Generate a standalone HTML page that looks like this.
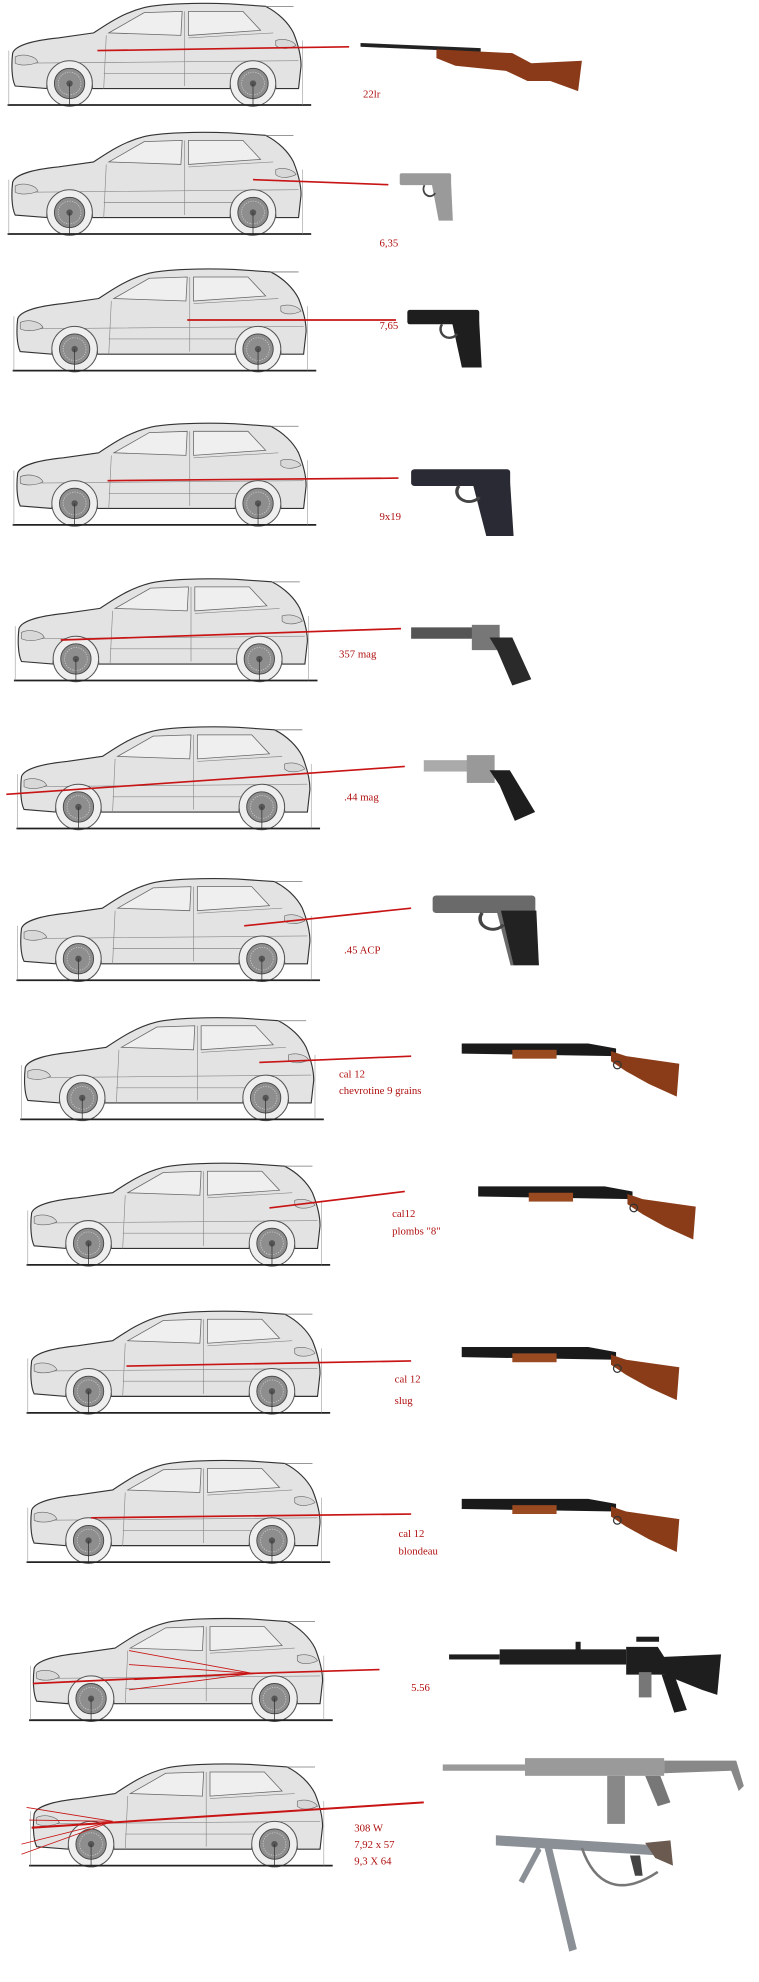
<!DOCTYPE html>
<html><head><meta charset="utf-8"><style>
html,body{margin:0;padding:0;background:#fff}
svg{display:block}
text{font-family:"Liberation Serif",serif;fill:#b01010;font-size:8.5px}
</style></head><body>
<svg width="759" height="1982" viewBox="0 0 600 1567" preserveAspectRatio="none" xmlns="http://www.w3.org/2000/svg">
<defs>
<g id="wheel">
<circle r="18" fill="#eeeeee" stroke="#555" stroke-width="0.8"/>
<circle r="12" fill="#8e8e8e" stroke="#444" stroke-width="0.7"/>
<circle r="9" fill="none" stroke="#ccc" stroke-width="0.6" stroke-dasharray="1 1"/>
<circle r="2.5" fill="#555"/>
<line x1="0" y1="0" x2="0" y2="18" stroke="#333" stroke-width="0.6"/>
</g>
<g id="car">
<path d="M4,40 C6,34 20,30 40,28 L68,24 C80,16 92,8 108,4 C120,1 150,0 175,1 L204,3 C214,8 222,16 226,24 C230,34 232,42 232,50 L230,68 L212,68 A18,18 0 0 0 176,68 L67,68 A18,18 0 0 0 31,68 L6,66 C3,60 3,48 4,40 Z" fill="#e3e3e3" stroke="#333" stroke-width="0.9"/>
<path d="M204,3 L226,3" stroke="#777" stroke-width="0.6"/>
<path d="M80,24 L108,8 L138,7 L137,26 Z" fill="#efefef" stroke="#666" stroke-width="0.6"/>
<path d="M143,7 L186,7 L200,22 L143,26 Z" fill="#efefef" stroke="#666" stroke-width="0.6"/>
<path d="M78,26 L76,68 M140,7 L140,66 M143,28 L210,24 M8,48 L230,46 M76,56 L200,56" stroke="#888" stroke-width="0.5" fill="none"/>
<path d="M6,43 C12,40 22,42 24,47 C18,50 10,50 6,48 Z M212,30 C218,28 226,30 228,34 C222,37 215,37 212,34 Z" fill="#d8d8d8" stroke="#666" stroke-width="0.5"/>
<path d="M31,68 A18,18 0 0 1 67,68 M176,68 A18,18 0 0 1 212,68" fill="none" stroke="#666" stroke-width="0.6"/>
<use href="#wheel" x="49" y="64"/>
<use href="#wheel" x="194" y="64"/>
<line x1="0" y1="81" x2="240" y2="81" stroke="#222" stroke-width="1.4"/>
<line x1="1" y1="38" x2="1" y2="81" stroke="#888" stroke-width="0.4"/>
<line x1="233" y1="30" x2="233" y2="81" stroke="#888" stroke-width="0.4"/>
</g>
<g id="shotgun">
<path d="M0,0 L100,0 L122,4 L122,10 L0,8 Z" fill="#1a1a1a"/>
<rect x="40" y="5" width="35" height="7" fill="#9a4a20"/>
<path d="M118,6 L130,10 L172,16 L170,42 L148,32 L130,22 L118,14 Z" fill="#8a3c18"/>
<circle cx="123" cy="17" r="3" fill="none" stroke="#333" stroke-width="1"/>
</g>
<g id="pistol">
<rect x="0" y="0" width="58" height="12" rx="2"/>
<path d="M36,10 L58,10 L60,48 L44,48 Z"/>
<path d="M28,12 A7,7 0 0 0 40,20" fill="none" stroke="#444" stroke-width="2"/>
</g>
</defs>

<use href="#car" x="6" y="2"/>
<use href="#car" x="6" y="104"/>
<use href="#car" x="10" y="212"/>
<use href="#car" x="10" y="334"/>
<use href="#car" x="11" y="457"/>
<use href="#car" x="13" y="574"/>
<use href="#car" x="13" y="694"/>
<use href="#car" x="16" y="804"/>
<use href="#car" x="21" y="919"/>
<use href="#car" x="21" y="1036"/>
<use href="#car" x="21" y="1154"/>
<use href="#car" x="23" y="1279"/>
<use href="#car" x="23" y="1394"/>

<g stroke="#c81414" stroke-width="1.3" fill="none">
<line x1="77" y1="40" x2="276" y2="37"/>
<line x1="200" y1="142" x2="307" y2="146"/>
<line x1="148" y1="253" x2="313" y2="253"/>
<line x1="85" y1="380" x2="315" y2="378"/>
<line x1="48" y1="506" x2="317" y2="497"/>
<line x1="5" y1="628" x2="320" y2="606"/>
<line x1="193" y1="732" x2="325" y2="718"/>
<line x1="205" y1="840" x2="325" y2="835"/>
<line x1="213" y1="955" x2="320" y2="942"/>
<line x1="100" y1="1080" x2="325" y2="1076"/>
<line x1="72" y1="1200" x2="325" y2="1197"/>
<line x1="26" y1="1331" x2="200" y2="1323"/>
<line x1="200" y1="1323" x2="300" y2="1320"/>
<line x1="25" y1="1445" x2="335" y2="1425" stroke-width="1.6"/>
</g>
<g stroke="#c81414" stroke-width="0.7" fill="none">
<line x1="200" y1="1323" x2="102" y2="1305"/>
<line x1="200" y1="1323" x2="102" y2="1316"/>
<line x1="200" y1="1323" x2="106" y2="1328"/>
<line x1="200" y1="1323" x2="102" y2="1336"/>
<line x1="89" y1="1440" x2="21" y2="1429"/>
<line x1="89" y1="1440" x2="17" y2="1458"/>
<line x1="89" y1="1440" x2="17" y2="1466"/>
<line x1="89" y1="1440" x2="23" y2="1439"/>
</g>

<g transform="translate(285,34)">
<path d="M0,0 L95,4 L95,7 L0,3 Z" fill="#222"/>
<path d="M60,5 L120,8 L135,16 L175,14 L172,38 L150,30 L132,30 L115,22 L75,18 L60,12 Z" fill="#8a3a18"/>
</g>
<g transform="translate(316,137) scale(0.7,0.78)" fill="#9a9a9a"><use href="#pistol"/></g>
<g transform="translate(322,245) scale(0.98,0.95)" fill="#1e1e1e"><use href="#pistol"/></g>
<g transform="translate(325,371) scale(1.35,1.1)" fill="#2a2a34"><use href="#pistol"/></g>
<g transform="translate(325,492)">
<rect x="0" y="4" width="58" height="9" fill="#555"/>
<rect x="48" y="2" width="22" height="20" fill="#777"/>
<path d="M62,12 L80,12 L95,45 L80,50 L68,22 Z" fill="#2a2a2a"/>
</g>
<g transform="translate(335,597)">
<rect x="0" y="4" width="40" height="9" fill="#aaa"/>
<rect x="34" y="0" width="22" height="22" fill="#999"/>
<path d="M52,12 L68,12 L88,45 L72,52 L60,24 Z" fill="#1e1e1e"/>
</g>
<g transform="translate(342,708) scale(1.4,1.15)" fill="#6a6a6a"><use href="#pistol"/></g>
<path d="M396,720 L424,720 L426,763 L406,763 Z" fill="#222"/>
<use href="#shotgun" x="365" y="825"/>
<use href="#shotgun" x="378" y="938"/>
<use href="#shotgun" x="365" y="1065"/>
<use href="#shotgun" x="365" y="1185"/>
<g transform="translate(355,1300)" fill="#1e1e1e">
<rect x="0" y="8" width="40" height="4"/>
<rect x="40" y="4" width="100" height="12"/>
<path d="M140,2 L165,2 L170,10 L215,8 L212,40 L200,36 L170,24 L140,24 Z"/>
<rect x="100" y="-2" width="4" height="8"/>
<rect x="148" y="-6" width="18" height="4"/>
<rect x="150" y="22" width="10" height="20" fill="#777"/>
<path d="M168,24 L178,24 L188,52 L178,54 Z"/>
</g>
<g transform="translate(350,1380)" fill="#9a9a9a">
<rect x="0" y="15" width="65" height="5"/>
<rect x="65" y="10" width="110" height="14"/>
<rect x="130" y="24" width="14" height="38" fill="#888"/>
<path d="M160,24 L172,24 L180,45 L170,48 Z" fill="#777"/>
<path d="M175,12 L232,12 L238,32 L234,36 L228,20 L175,22 Z" fill="#888"/>
</g>
<g transform="translate(390,1445)" fill="#8a9096">
<path d="M2,6 L130,14 L132,22 L2,14 Z"/>
<path d="M120,12 L140,10 L142,30 L128,24 Z" fill="#6a5a50"/>
<path d="M35,14 L20,42 L24,44 L38,18 Z M40,14 L60,98 L66,96 L46,14 Z"/>
<path d="M70,16 C80,45 100,55 130,35" fill="none" stroke="#777" stroke-width="2"/>
<path d="M108,22 L116,22 L118,38 L112,38 Z" fill="#444"/>
</g>

<text x="287" y="77">22lr</text>
<text x="300" y="195">6,35</text>
<text x="300" y="260">7,65</text>
<text x="300" y="411">9x19</text>
<text x="268" y="520">357 mag</text>
<text x="272" y="633">.44 mag</text>
<text x="272" y="754">.45 ACP</text>
<text x="268" y="852">cal 12</text>
<text x="268" y="865">chevrotine 9 grains</text>
<text x="310" y="962">cal12</text>
<text x="310" y="976">plombs "8"</text>
<text x="312" y="1093">cal 12</text>
<text x="312" y="1110">slug</text>
<text x="315" y="1215">cal 12</text>
<text x="315" y="1229">blondeau</text>
<text x="325" y="1337">5.56</text>
<text x="280" y="1448">308 W</text>
<text x="280" y="1461">7,92 x 57</text>
<text x="280" y="1474">9,3 X 64</text>
</svg>
</body></html>
